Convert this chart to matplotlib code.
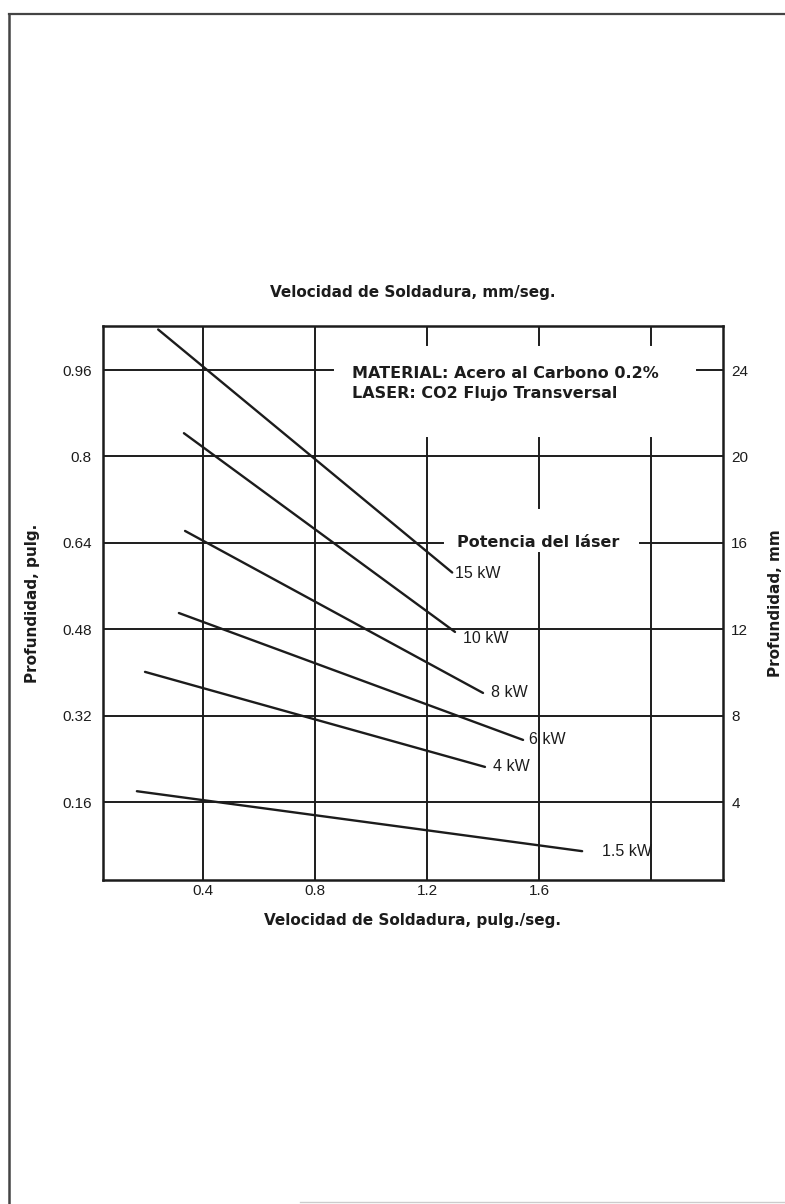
import matplotlib
matplotlib.use("Agg")
import matplotlib.pyplot as plt
from matplotlib.lines import Line2D

# ---------------- data ----------------
x_ticks = [0.4, 0.8, 1.2, 1.6]
x_tick_labels = ["0.4", "0.8", "1.2", "1.6"]
x_grid = [0.4, 0.8, 1.2, 1.6, 2.0]
y_ticks = [0.16, 0.32, 0.48, 0.64, 0.8, 0.96]
y_tick_labels = ["0.16", "0.32", "0.48", "0.64", "0.8", "0.96"]
mm_ticks = [4, 8, 12, 16, 20, 24]

power_labels = ["15 kW", "10 kW", "8 kW", "6 kW", "4 kW", "1.5 kW"]
vel_15 = [0.24, 1.29];   prof_15 = [1.035, 0.585]
vel_10 = [0.332, 1.30];  prof_10 = [0.843, 0.475]
vel_8 = [0.336, 1.40];   prof_8 = [0.662, 0.362]
vel_6 = [0.314, 1.543];  prof_6 = [0.510, 0.275]
vel_4 = [0.193, 1.407];  prof_4 = [0.401, 0.225]
vel_15kw = [0.164, 1.754]; prof_15kw = [0.180, 0.069]

series_x = [vel_15, vel_10, vel_8, vel_6, vel_4, vel_15kw]
series_y = [prof_15, prof_10, prof_8, prof_6, prof_4, prof_15kw]
label_offsets = [(2, -1), (6, -5), (6, 0), (4, 0), (6, 0), (14, 0)]

INK = "#1c1c1c"
LAB = ["DejaVu Sans"]
NUM = ["Liberation Sans", "DejaVu Sans"]
LFS = 11  # label font size

fig = plt.figure(figsize=(7.85, 12.04), dpi=100)
ax = fig.add_axes([103/785, 1-880/1204, 620/785, 554/1204])
ax.set_xlim(0.043, 2.257)
ax.set_ylim(0.0156, 1.0415)

# page frame of the scan
fig.add_artist(Line2D([9/785, 1.0], [1-14/1204, 1-14/1204], transform=fig.transFigure, color="#444444", lw=1.6))
fig.add_artist(Line2D([9/785, 9/785], [0.0, 1-14/1204], transform=fig.transFigure, color="#444444", lw=1.8))
fig.add_artist(Line2D([300/785, 1.0], [1-1202/1204, 1-1202/1204], transform=fig.transFigure, color="#cccccc", lw=1.0))

# spines
for s in ax.spines.values():
    s.set_linewidth(1.8)
    s.set_color(INK)

gw = 1.4
# horizontal grid
for y in y_ticks:
    if abs(y - 0.96) < 1e-6:
        ax.plot([0.043, 0.864], [y, y], color=INK, lw=gw, zorder=1)
        ax.plot([2.164, 2.257], [y, y], color=INK, lw=gw, zorder=1)
    elif abs(y - 0.64) < 1e-6:
        ax.plot([0.043, 1.257], [y, y], color=INK, lw=gw, zorder=1)
        ax.plot([1.961, 2.257], [y, y], color=INK, lw=gw, zorder=1)
    else:
        ax.axhline(y, color=INK, lw=gw, zorder=1)

# vertical grid
ylo, yhi = ax.get_ylim()
for x in x_grid:
    if x < 1.0:
        ax.axvline(x, color=INK, lw=gw, zorder=1)
    else:
        ax.plot([x, x], [1.006, yhi], color=INK, lw=gw, zorder=1)
        if abs(x - 1.6) < 1e-6:
            ax.plot([x, x], [0.704, 0.834], color=INK, lw=gw, zorder=1)
            ax.plot([x, x], [ylo, 0.621], color=INK, lw=gw, zorder=1)
        else:
            ax.plot([x, x], [ylo, 0.834], color=INK, lw=gw, zorder=1)

# curves
for xs, ys, lab, off in zip(series_x, series_y, power_labels, label_offsets):
    ax.plot(xs, ys, color=INK, lw=1.7, zorder=3, solid_capstyle="round")
    ax.annotate(lab, xy=(xs[-1], ys[-1]), xytext=off, textcoords="offset points",
                ha="left", va="center", fontsize=11.5, family=NUM, color=INK, zorder=4)

# annotations
ax.text(0.4 + (352-203)/280, 0.16 + (802-373)/540, "MATERIAL: Acero al Carbono 0.2%",
        ha="left", va="center", fontsize=LFS + 0.5, fontweight="bold", family=LAB, color=INK)
ax.text(0.4 + (352-203)/280, 0.16 + (802-393)/540, "LASER: CO2 Flujo Transversal",
        ha="left", va="center", fontsize=LFS + 0.5, fontweight="bold", family=LAB, color=INK)
ax.text(0.4 + (457-203)/280, 0.64, "Potencia del láser",
        ha="left", va="center", fontsize=LFS + 0.5, fontweight="bold", family=LAB, color=INK)

# ticks
ax.set_xticks(x_ticks)
ax.set_xticklabels(x_tick_labels, family=NUM, fontsize=11, color=INK)
ax.set_yticks(y_ticks)
ax.set_yticklabels(y_tick_labels, family=NUM, fontsize=11, color=INK)
ax.tick_params(axis="both", length=0)
ax.tick_params(axis="y", pad=8)
ax.tick_params(axis="x", pad=3)

sec = ax.secondary_yaxis("right", functions=(lambda v: v * 25, lambda m: m / 25))
sec.set_yticks(mm_ticks)
sec.set_yticklabels([str(m) for m in mm_ticks], family=NUM, fontsize=11, color=INK)
sec.tick_params(length=0, pad=6)
sec.spines["right"].set_visible(False)
sec.set_ylabel("Profundidad, mm", family=LAB, fontweight="bold", fontsize=LFS, color=INK, labelpad=14)

ax.set_xlabel("Velocidad de Soldadura, pulg./seg.", family=LAB, fontweight="bold", fontsize=LFS,
              color=INK, labelpad=11)
ax.set_ylabel("Profundidad, pulg.", family=LAB, fontweight="bold", fontsize=LFS, color=INK, labelpad=16)
ax.set_title("Velocidad de Soldadura, mm/seg.", family=LAB, fontweight="bold", fontsize=LFS,
             color=INK, pad=21)

fig.savefig("out.png", dpi=100, facecolor="white")
